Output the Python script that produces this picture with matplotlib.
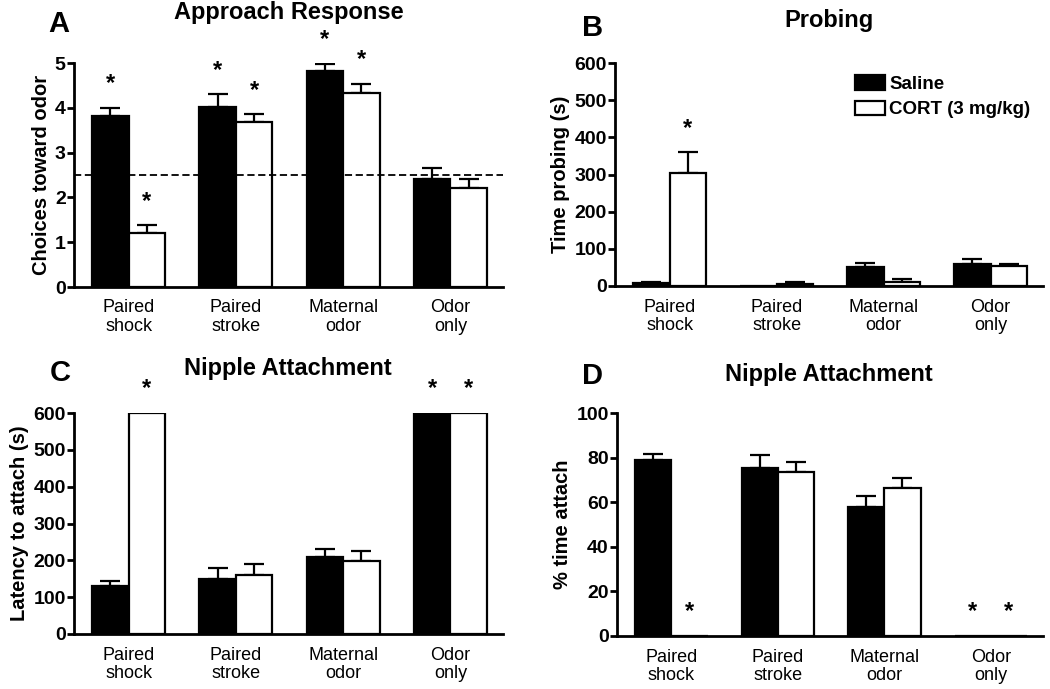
import matplotlib
matplotlib.use("Agg")
import matplotlib.pyplot as plt
import numpy as np
from matplotlib.patches import Patch

plt.rcParams['font.family'] = ['Liberation Sans', 'DejaVu Sans']

groups = ["Paired\nshock", "Paired\nstroke", "Maternal\nodor", "Odor\nonly"]

# A - approach response
a_sal = [3.82, 4.02, 4.83, 2.42]
a_sal_err = [0.18, 0.28, 0.15, 0.23]
a_cort = [1.2, 3.68, 4.33, 2.2]
a_cort_err = [0.18, 0.18, 0.21, 0.2]
a_sal_star = [True, True, True, False]
a_cort_star = [True, True, True, False]

# B - probing
b_sal = [8, 1, 50, 60]
b_sal_err = [4, 0, 12, 12]
b_cort = [305, 6, 12, 55]
b_cort_err = [55, 4, 8, 5]
b_sal_star = [False, False, False, False]
b_cort_star = [True, False, False, False]

# C - latency to attach
c_sal = [130, 148, 210, 600]
c_sal_err = [13, 32, 20, 0]
c_cort = [600, 160, 198, 600]
c_cort_err = [0, 30, 27, 0]
c_sal_star = [False, False, False, True]
c_cort_star = [True, False, False, True]

# D - % time attach
d_sal = [79, 75.5, 58, 0]
d_sal_err = [2.5, 5.5, 5, 0]
d_cort = [0, 73.5, 66.5, 0]
d_cort_err = [0, 4.5, 4.5, 0]
d_sal_star = [False, False, False, True]
d_cort_star = [True, False, False, True]

W, H = 1050, 689
fig = plt.figure(figsize=(10.5, 6.89), dpi=100)


def px_axes(l, t, r, b):
    return fig.add_axes([l / W, 1 - b / H, (r - l) / W, (b - t) / H])


def panel(ax, sal, sal_err, cort, cort_err, sal_star, cort_star, ymax, step, ylabel):
    x = np.arange(len(groups))
    w = 0.34
    lw = 1.6
    ax.bar(x - w / 2, sal, w, color="black", edgecolor="black", linewidth=lw, zorder=2)
    ax.bar(x + w / 2, cort, w, color="white", edgecolor="black", linewidth=lw, zorder=2)
    for xs, vals, errs in [(x - w / 2, sal, sal_err), (x + w / 2, cort, cort_err)]:
        for xi, v, e in zip(xs, vals, errs):
            if e > 0:
                ax.errorbar(xi, v, yerr=[[0], [e]], fmt="none", ecolor="black",
                            elinewidth=lw, capsize=7, capthick=lw, zorder=1)
    for xs, vals, errs, stars in [(x - w / 2, sal, sal_err, sal_star),
                                   (x + w / 2, cort, cort_err, cort_star)]:
        for xi, v, e, s in zip(xs, vals, errs, stars):
            if s:
                ax.annotate("*", (xi, v + e), xytext=(0, 9), textcoords="offset points",
                            ha="center", va="bottom", fontsize=17, fontweight="bold")
    ax.set_xlim(-0.51, 3.49)
    ax.set_ylim(0, ymax)
    ax.set_yticks(np.arange(0, ymax + step / 2, step))
    ax.set_xticks(x)
    ax.set_xticklabels(groups, fontsize=13, linespacing=1.15)
    ax.tick_params(axis="x", length=0, pad=9)
    ax.tick_params(axis="y", length=5, width=2, labelsize=14, pad=1)
    for t in ax.get_yticklabels():
        t.set_fontweight("bold")
    ax.spines["top"].set_visible(False)
    ax.spines["right"].set_visible(False)
    ax.spines["left"].set_linewidth(2)
    ax.spines["bottom"].set_linewidth(2)
    ax.set_ylabel(ylabel, fontsize=14.5, fontweight="bold", labelpad=3)


axA = px_axes(74, 63, 503, 287)
panel(axA, a_sal, a_sal_err, a_cort, a_cort_err, a_sal_star, a_cort_star, 5, 1,
      "Choices toward odor")
axA.axhline(2.5, color="black", linestyle=(0, (4, 2)), linewidth=1.3, zorder=3)

axB = px_axes(615, 63, 1043, 286)
panel(axB, b_sal, b_sal_err, b_cort, b_cort_err, b_sal_star, b_cort_star, 600, 100,
      "Time probing (s)")
handles = [Patch(facecolor="black", edgecolor="black", linewidth=1.6),
           Patch(facecolor="white", edgecolor="black", linewidth=1.6)]
leg = axB.legend(handles, ["Saline", "CORT (3 mg/kg)"], loc="upper right",
                 bbox_to_anchor=(1.01, 1.02), frameon=False, handlelength=1.6,
                 handleheight=0.8, handletextpad=0.25, labelspacing=0.4,
                 prop={"weight": "bold", "size": 13.5})

axC = px_axes(74, 413, 503, 634)
panel(axC, c_sal, c_sal_err, c_cort, c_cort_err, c_sal_star, c_cort_star, 600, 100,
      "Latency to attach (s)")

axD = px_axes(617, 413, 1043, 636)
panel(axD, d_sal, d_sal_err, d_cort, d_cort_err, d_sal_star, d_cort_star, 100, 20,
      "% time attach")

titles = [("Approach Response", 289, 13), ("Probing", 829, 21),
          ("Nipple Attachment", 288, 368), ("Nipple Attachment", 829, 375)]
for txt, tx, ty in titles:
    fig.text(tx / W, 1 - ty / H, txt, ha="center", va="center", fontsize=17, fontweight="bold")

letters = [("A", 59, 24), ("B", 593, 28), ("C", 60, 373), ("D", 593, 376)]
for txt, tx, ty in letters:
    fig.text(tx / W, 1 - ty / H, txt, ha="center", va="center", fontsize=21, fontweight="bold")

fig.savefig("out.png", dpi=100)
